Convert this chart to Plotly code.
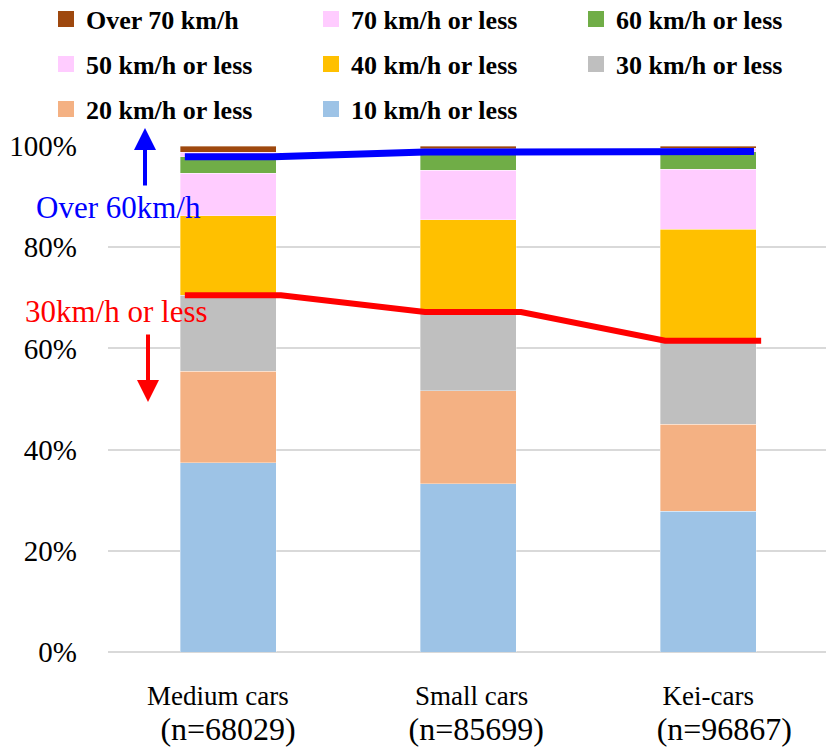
import numpy as np
import plotly.graph_objects as go

# Vehicle classes and number of trips per class
categories = ["Medium cars", "Small cars", "Kei-cars"]
sample_sizes = [68029, 85699, 96867]

# Share of trips (%) in each speed band, slowest band first
speed_bands = ["10 km/h or less", "20 km/h or less", "30 km/h or less", "40 km/h or less",
               "50 km/h or less", "60 km/h or less", "70 km/h or less", "Over 70 km/h"]
share_10 = [37.4, 33.3, 27.8]
share_20 = [18.1, 18.3, 17.2]
share_30 = [15.0, 15.6, 16.5]
share_40 = [15.7, 18.2, 22.0]
share_50 = [8.4, 9.8, 11.9]
share_60 = [3.3, 3.6, 3.5]
share_70 = [0.9, 0.7, 0.7]
share_over70 = [1.2, 0.5, 0.4]

band_colors = ["#9DC3E6", "#F4B183", "#BFBFBF", "#FFC000",
               "#FFCCFF", "#70AD47", "#FFCCFF", "#9E480E"]
y_ticks = [0, 20, 40, 60, 80, 100]
y_tick_labels = [f"{v}%" for v in y_ticks]

# Legend layout: three rows of entries
legend_rows = [["Over 70 km/h", "70 km/h or less", "60 km/h or less"],
               ["50 km/h or less", "40 km/h or less", "30 km/h or less"],
               ["20 km/h or less", "10 km/h or less"]]

shares = [share_10, share_20, share_30, share_40, share_50, share_60, share_70, share_over70]
SERIF = "Liberation Serif, Times New Roman, serif"
BAR_W = 0.4

# Figure geometry (pixels) used to place items outside the plot area
W, H = 826, 751
ML, MR, MT, MB = 108, 0, 146, 99
PW, PH = W - ML - MR, H - MT - MB


def px_to_paper(px, py):
    return (px - ML) / PW, (H - MB - py) / PH


fig = go.Figure()
xs = np.arange(len(categories))

for name, vals, col in zip(speed_bands, shares, band_colors):
    fig.add_trace(go.Bar(
        x=xs, y=vals, name=name, width=BAR_W, showlegend=False,
        marker=dict(color=col, line=dict(color="rgba(255,255,255,0.6)", width=0.6)),
    ))

# Legend proxies, one legend per row
for r, row in enumerate(legend_rows):
    lid = "legend" if r == 0 else f"legend{r + 1}"
    for name in row:
        col = band_colors[speed_bands.index(name)]
        fig.add_trace(go.Scatter(
            x=[None], y=[None], mode="markers", name=name, legend=lid,
            marker=dict(symbol="square", size=18, color=col),
        ))

# Boundary lines: cumulative share up to 30 km/h and up to 60 km/h
cum = np.cumsum(np.array(shares), axis=0)
upto30 = cum[2]
upto60 = cum[5]


def step_line(values, left, right):
    lx, ly = [], []
    for i, v in enumerate(values):
        lx += [i + left, i + right]
        ly += [v, v]
    return lx, ly


rx, ry = step_line(upto30, -0.18, 0.22)
bx, by = step_line(upto60, -0.18, 0.19)
fig.add_trace(go.Scatter(x=rx, y=ry, mode="lines", showlegend=False, cliponaxis=False,
                         line=dict(color="#FF0000", width=6)))
fig.add_trace(go.Scatter(x=bx, y=by, mode="lines", showlegend=False, cliponaxis=False,
                         line=dict(color="#0000FF", width=7)))

# Category labels with sample sizes (sample size line set slightly larger)
NB = "\u00a0"
pad_first = [(0, 3), (1, 0), (0, 0)]
pad_second = [0, 2, 4]
tick_text = [
    f"{NB * a}{c}{NB * b}<br><span style='font-size:32px'>{NB * p}(n={n})</span>"
    for c, n, (a, b), p in zip(categories, sample_sizes, pad_first, pad_second)
]

annotations = []
ax_, ay_ = px_to_paper(145, 128)
annotations.append(dict(xref="paper", yref="paper", x=ax_, y=ay_, text="", showarrow=True,
                        ax=0, ay=59, arrowhead=2, arrowsize=1.1, arrowwidth=4,
                        arrowcolor="#0000FF"))
ax_, ay_ = px_to_paper(148, 402)
annotations.append(dict(xref="paper", yref="paper", x=ax_, y=ay_, text="", showarrow=True,
                        ax=0, ay=-69, arrowhead=2, arrowsize=1.1, arrowwidth=4,
                        arrowcolor="#FF0000"))
tx, ty = px_to_paper(118, 207)
annotations.append(dict(xref="paper", yref="paper", x=tx, y=ty, text="Over 60km/h",
                        showarrow=False, xanchor="center", yanchor="middle",
                        font=dict(family=SERIF, size=31, color="#0000FF")))
tx, ty = px_to_paper(116, 311)
annotations.append(dict(xref="paper", yref="paper", x=tx, y=ty, text="30km/h or less",
                        showarrow=False, xanchor="center", yanchor="middle",
                        font=dict(family=SERIF, size=31, color="#FF0000")))

legend_font = dict(family=SERIF, size=26, color="black", weight="bold")
row_centers = [19, 64, 109]
legends = {}
for r, yc in enumerate(row_centers):
    lx, ly = px_to_paper(46, yc)
    legends["legend" if r == 0 else f"legend{r + 1}"] = dict(
        orientation="h", xref="paper", yref="paper", x=lx, y=ly,
        xanchor="left", yanchor="middle", entrywidth=220, entrywidthmode="pixels",
        traceorder="normal",
        font=legend_font, bgcolor="rgba(0,0,0,0)", itemclick=False,
        itemdoubleclick=False,
    )

fig.update_layout(
    width=W, height=H,
    font=dict(family=SERIF, color="black"),
    margin=dict(l=ML, r=MR, t=MT, b=MB, autoexpand=False),
    paper_bgcolor="white", plot_bgcolor="white",
    barmode="stack",
    showlegend=True,
    annotations=annotations,
    **legends,
)
fig.update_xaxes(
    range=[-0.5, 2.49], tickmode="array", tickvals=list(xs), ticktext=tick_text,
    showgrid=False, zeroline=False, showline=False, ticks="",
    ticklabelstandoff=25,
    tickfont=dict(family=SERIF, size=27, color="black"),
)
fig.update_yaxes(
    range=[0, 100], tickmode="array", tickvals=y_ticks, ticktext=y_tick_labels,
    showgrid=True, gridcolor="#D9D9D9", gridwidth=1.5,
    zeroline=True, zerolinecolor="#D9D9D9", zerolinewidth=1.5,
    showline=False, ticks="", ticklabelstandoff=30,
    tickfont=dict(family=SERIF, size=29, color="black"),
)

fig.write_html("out.html")
